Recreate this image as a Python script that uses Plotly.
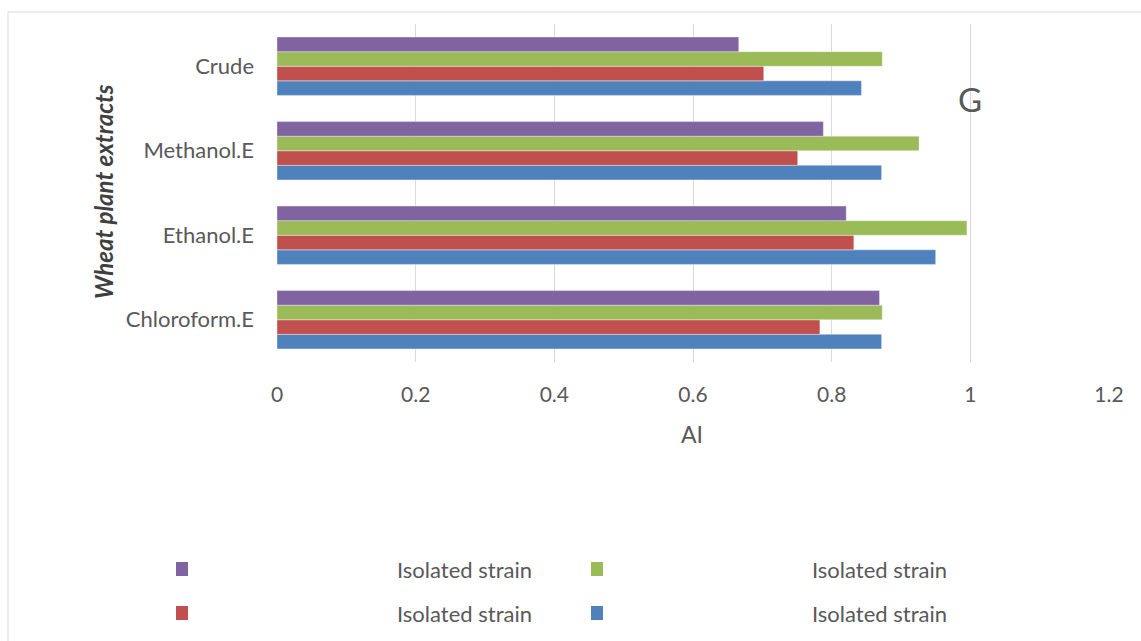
import plotly.graph_objects as go

# Extracts, listed bottom-to-top as drawn on the category axis
extracts = ["Chloroform.E", "Ethanol.E", "Methanol.E", "Crude"]

# AI values for the four isolated strains per extract
strain_blue = [0.872, 0.950, 0.872, 0.843]
strain_red = [0.783, 0.832, 0.751, 0.702]
strain_green = [0.873, 0.995, 0.926, 0.873]
strain_purple = [0.869, 0.821, 0.788, 0.666]

series_names = ["Isolated strain", "Isolated strain", "Isolated strain", "Isolated strain"]
x_ticks = [0, 0.2, 0.4, 0.6, 0.8, 1.0, 1.2]
x_tick_text = ["0", "0.2", "0.4", "0.6", "0.8", "1", "1.2"]

BLUE, RED, GREEN, PURPLE = "#4F81BD", "#C0504D", "#9BBB59", "#8064A2"
FONT = "Lato"
TXT = "#595959"

fig = go.Figure()
for vals, col, name in [
    (strain_blue, BLUE, series_names[0]),
    (strain_red, RED, series_names[1]),
    (strain_green, GREEN, series_names[2]),
    (strain_purple, PURPLE, series_names[3]),
]:
    fig.add_trace(go.Bar(
        y=extracts, x=vals, orientation="h", name=name,
        marker=dict(color=col, line=dict(width=0.6, color="rgba(255,255,255,0.6)")),
        showlegend=False,
    ))

W, H = 1141, 641
L, R, T, B = 277, 32, 24, 279


def px(x):
    return (x - L) / (W - L - R)


def py(y):
    return (H - B - y) / (H - T - B)


def label(text, x, y, size, color=TXT, xanchor="center", angle=0):
    return dict(text=text, x=px(x), y=py(y), xref="paper", yref="paper",
                xanchor=xanchor, yanchor="middle", textangle=angle, showarrow=False,
                font=dict(family=FONT, size=size, color=color))


shapes = [
    # outer chart frame
    dict(type="rect", xref="paper", yref="paper",
         x0=px(8), x1=px(1150), y0=py(12), y1=py(650),
         line=dict(color="#D9D9D9", width=1), fillcolor="rgba(0,0,0,0)", layer="below"),
]
annotations = [label("G", 970, 99, 33)]

# legend: 2 x 2 layout of swatches with labels
legend_items = [
    (PURPLE, 176, 395, 569, series_names[3]),
    (GREEN, 591, 810, 569, series_names[2]),
    (RED, 176, 395, 613, series_names[1]),
    (BLUE, 591, 810, 613, series_names[0]),
]
for col, sx, tx, cy, name in legend_items:
    shapes.append(dict(type="rect", xref="paper", yref="paper",
                       x0=px(sx), x1=px(sx + 12), y0=py(cy + 7), y1=py(cy - 7),
                       fillcolor=col, line=dict(width=0)))
    annotations.append(label(name, tx, cy, 22, xanchor="left"))

annotations.append(label("AI", 692, 434, 23))
annotations.append(label("<b><i>Wheat plant extracts</i></b>", 103, 192, 24,
                         color="#404040", angle=-90))

fig.update_layout(
    width=W, height=H,
    margin=dict(l=L, r=R, t=T, b=B, autoexpand=False),
    paper_bgcolor="white", plot_bgcolor="white",
    barmode="group", bargap=0.31, bargroupgap=0,
    shapes=shapes, annotations=annotations,
    xaxis=dict(range=[0, 1.2], tickvals=x_ticks, ticktext=x_tick_text,
               showgrid=True, gridcolor="#D9D9D9", gridwidth=1.3,
               zeroline=False, showline=False, ticks="",
               tickfont=dict(family=FONT, size=21, color=TXT), ticklabelstandoff=18),
    yaxis=dict(showgrid=False, zeroline=False, showline=False, ticks="",
               tickfont=dict(family=FONT, size=22, color=TXT), ticklabelstandoff=22),
    font=dict(family=FONT),
)

fig.write_html("out.html")
